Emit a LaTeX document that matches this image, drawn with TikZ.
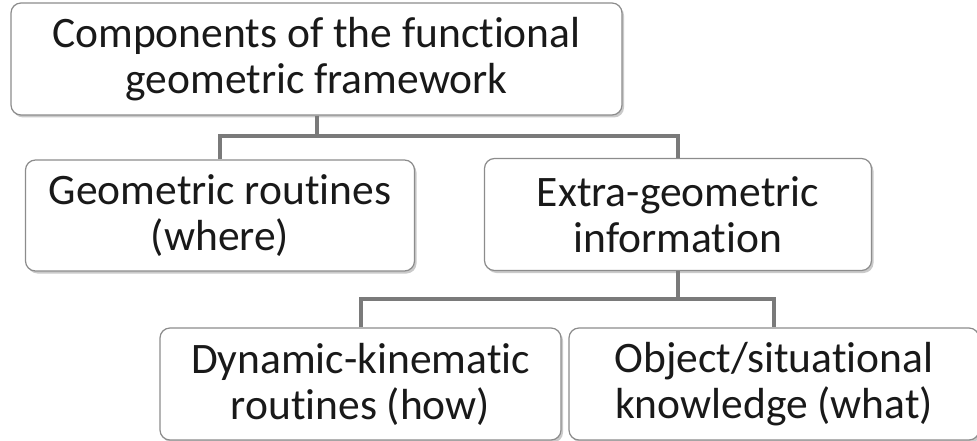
\documentclass[tikz,border=0pt]{standalone}
\usepackage{fontspec}
\setmainfont{Carlito}[Ligatures=NoCommon]
\usetikzlibrary{shadows}
\definecolor{boxgray}{HTML}{8C8C8C}
\definecolor{conngray}{HTML}{7A7A7A}
\tikzset{
  box/.style={draw=boxgray, line width=1.2pt, fill=white, rounded corners=10pt,
    inner sep=0pt, align=center, text=black!90,
    font=\fontsize{43.5}{46}\selectfont,
    drop shadow={shadow xshift=2pt, shadow yshift=-2.5pt, opacity=0.35, fill=black!60}},
  conn/.style={draw=conngray, line width=4pt}
}
\begin{document}
\begin{tikzpicture}[x=1pt, y=-1pt]
\useasboundingbox (0,0) rectangle (977,441);
\node[box, minimum width=611pt, minimum height=112pt] (top) at (316.5,59) {Components of the functional\\geometric framework};
\node[box, minimum width=389pt, minimum height=111pt] (lc) at (220,215.5) {Geometric routines\\(where)};
\node[box, minimum width=387pt, minimum height=112pt] (rc) at (678,214.5) {Extra-geometric\\information};
\node[box, minimum width=401pt, minimum height=112pt] (bl) at (360.5,384) {Dynamic-kinematic\\routines (how)};
\node[box, minimum width=410pt, minimum height=112pt] (br) at (774,384) {Object/situational\\knowledge (what)};
\coordinate (j1) at (316.5,136);
\coordinate (j2) at (678,298.5);
\draw[conn] (top.south) -- (j1);
\draw[conn] (lc.north) |- (j1) -| (rc.north);
\draw[conn] (rc.south) -- (j2);
\draw[conn] (bl.north) |- (j2) -| (br.north);
\end{tikzpicture}
\end{document}
